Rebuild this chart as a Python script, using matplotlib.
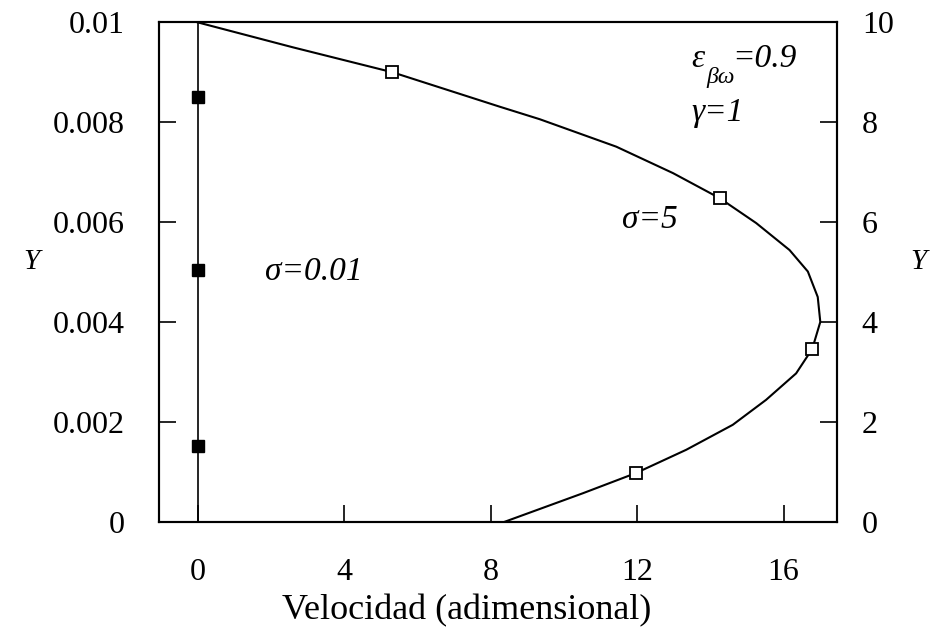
import numpy as np
import matplotlib.pyplot as plt

plt.rcParams['font.family'] = ['Liberation Serif', 'DejaVu Serif']

# sigma = 5 velocity profile (right axis, Y from 0 to 10)
vel_s5 = [0.0, 2.6, 5.32, 8.25, 9.34, 11.43, 12.98, 14.25, 15.25, 16.16, 16.66,
          16.93, 17.0, 16.78, 16.34, 15.52, 14.61, 13.34, 11.97, 10.52, 8.39]
y_s5 = [10.0, 9.5, 9.0, 8.31, 8.06, 7.51, 6.98, 6.48, 5.98, 5.44, 5.01,
        4.5, 4.0, 3.46, 2.97, 2.44, 1.94, 1.44, 0.975, 0.57, 0.0]
# marked points on the sigma = 5 curve
vel_s5_pts = [5.32, 14.25, 16.78, 11.97]
y_s5_pts = [9.0, 6.48, 3.46, 0.975]

# sigma = 0.01 profile (left axis, Y from 0 to 0.01)
vel_s001 = [0.0, 0.0]
y_s001 = [0.0, 0.01]
vel_s001_pts = [0.0, 0.0, 0.0]
y_s001_pts = [0.0085, 0.00504, 0.00152]

left_ticks = [0, 0.002, 0.004, 0.006, 0.008, 0.01]
left_labels = ['0', '0.002', '0.004', '0.006', '0.008', '0.01']
right_ticks = [0, 2, 4, 6, 8, 10]
x_ticks = [0, 4, 8, 12, 16]

fig = plt.figure(figsize=(9.36, 6.29), dpi=100)
ax = fig.add_axes([0.170, 0.1706, 0.724, 0.7939])
ax2 = ax.twinx()

ax.plot(vel_s001, y_s001, color='black', linewidth=1.2)
ax.plot(vel_s001_pts, y_s001_pts, 's', color='black', markersize=8.5)

ax2.plot(vel_s5, y_s5, color='black', linewidth=1.5)
ax2.plot(vel_s5_pts, y_s5_pts, 's', markerfacecolor='white',
         markeredgecolor='black', markeredgewidth=1.3, markersize=8)

ax.set_xlim(-1.05, 17.45)
ax.set_ylim(0, 0.01)
ax2.set_ylim(0, 10)

ax.set_xticks(x_ticks)
ax.set_yticks(left_ticks)
ax.set_yticklabels(left_labels)
ax2.set_yticks(right_ticks)

ax.tick_params(axis='both', direction='in', length=12, width=1.2, labelsize=23)
ax.tick_params(axis='y', pad=25)
ax.tick_params(axis='x', pad=26)
ax2.tick_params(axis='y', direction='in', length=12, width=1.2, labelsize=23, pad=18)
for a in (ax, ax2):
    for s in a.spines.values():
        s.set_linewidth(1.5)

ax.set_xlabel('Velocidad (adimensional)', fontsize=26)
ax.xaxis.set_label_coords(0.454, -0.145)
fig.text(0.034, 0.583, 'Y', fontsize=21, style='italic', ha='center', va='center')
fig.text(0.981, 0.583, 'Y', fontsize=21, style='italic', ha='center', va='center')

ax2.text(1.84, 5.0, 'σ=0.01', fontsize=24, style='italic', va='center')
ax2.text(11.58, 6.05, 'σ=5', fontsize=24, style='italic', va='center')
ax2.text(13.47, 9.28, 'ε', fontsize=24, style='italic', va='center')
ax2.text(13.89, 8.9, 'βω', fontsize=17, style='italic', va='center')
ax2.text(14.6, 9.28, '=0.9', fontsize=24, style='italic', va='center')
ax2.text(13.47, 8.18, 'γ=1', fontsize=24, style='italic', va='center')

fig.savefig('out.png', dpi=100)
